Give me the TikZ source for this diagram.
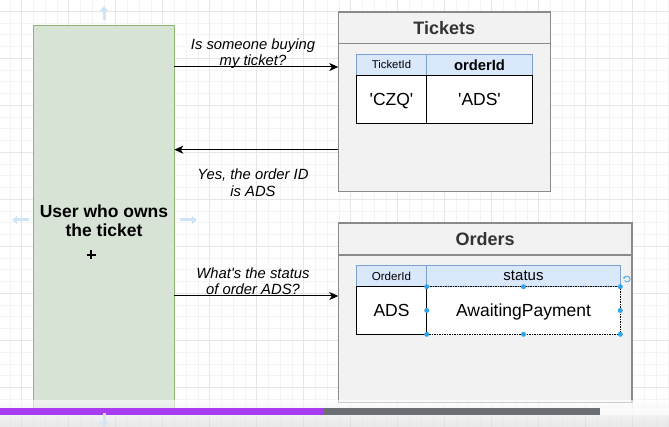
\documentclass[tikz,border=0pt]{standalone}
\usepackage{fontspec}
\setmainfont{Liberation Sans}
\usetikzlibrary{arrows.meta}
\definecolor{userfill}{HTML}{D6E3D5}
\definecolor{userdraw}{HTML}{8DB772}
\definecolor{tblfill}{HTML}{F2F2F2}
\definecolor{tbldraw}{HTML}{8A8A8A}
\definecolor{hdrfill}{HTML}{DAE8FC}
\definecolor{hdrdraw}{HTML}{7EA0D0}
\definecolor{gridminor}{HTML}{F4F4F4}
\definecolor{gridmajor}{HTML}{E6E6E6}
\definecolor{handle}{HTML}{2FA4E7}
\definecolor{hover}{HTML}{CFE5F7}
\definecolor{barpurple}{HTML}{A93BF2}
\definecolor{bargray}{HTML}{6B6F73}
\definecolor{titlecol}{HTML}{333333}
\begin{document}
\begin{tikzpicture}[x=1pt,y=-1pt,
  every node/.style={inner sep=0pt,outer sep=0pt},
  userbox/.style={draw=userdraw,fill=userfill,line width=1pt},
  tblbox/.style={draw=tbldraw,fill=tblfill,line width=1.6pt},
  hdrcell/.style={draw=hdrdraw,fill=hdrfill,line width=1pt},
  datacell/.style={draw=black,fill=white,line width=1pt,font=\fontsize{17.5}{19}\selectfont,text height=12.5pt,text depth=0pt},
  ttl/.style={font=\fontsize{18}{20}\selectfont\bfseries,text=titlecol},
  conn/.style={draw=black,line width=1pt,-{Stealth[length=9pt,width=8pt,inset=2.5pt]}},
  lbl/.style={font=\fontsize{14.8}{16.3}\selectfont\itshape,align=center},
  hov/.style={draw=hover,line width=3pt,-{Triangle[length=5pt,width=8pt]}},
  hdl/.style={fill=handle,draw=none,circle,minimum size=5pt}
]
\useasboundingbox (0,0) rectangle (669,427);
\fill[white] (0,0) rectangle (669,427);
% grid
\foreach \i in {0,...,57} {
  \draw[gridminor,line width=0.6pt] ({-1.95+11.75*\i},0) -- ({-1.95+11.75*\i},427);
}
\foreach \j in {0,...,37} {
  \draw[gridminor,line width=0.6pt] (0,{-0.45+11.75*\j}) -- (669,{-0.45+11.75*\j});
}
\foreach \i in {0,...,14} {
  \draw[gridmajor,line width=0.7pt] ({21.3+47*\i},0) -- ({21.3+47*\i},427);
}
\foreach \j in {0,...,9} {
  \draw[gridmajor,line width=0.7pt] (0,{11.3+47*\j}) -- (669,{11.3+47*\j});
}

% user box
\node[userbox,minimum width=140.6pt,minimum height=382.3pt] (user) at (104,216.9) {};
\node[font=\fontsize{17.5}{19}\selectfont\bfseries,align=center] (usertext) at (104,221) {User who owns\\the ticket};

% Tickets
\node[tblbox,minimum width=212pt,minimum height=179.4pt] (tickets) at (444.3,102) {};
\draw[tbldraw,line width=1.4pt] (tickets.west |- 0,43.7) -- (tickets.east |- 0,43.7);
\node[ttl] (tickettitle) at (444.3,28) {Tickets};
\node[hdrcell,minimum width=70.4pt,minimum height=21pt,font=\fontsize{11.3}{13}\selectfont] (th1) at (391.5,64.8) {TicketId};
\node[hdrcell,minimum width=105.6pt,minimum height=21pt,font=\fontsize{14.8}{16}\selectfont\bfseries] (th2) at (479.5,64.8) {orderId};
\node[datacell,minimum width=70.4pt,minimum height=48pt] (td1) at (391.5,99.3) {\textquotesingle CZQ\textquotesingle};
\node[datacell,minimum width=105.6pt,minimum height=48pt] (td2) at (479.5,99.3) {\textquotesingle ADS\textquotesingle};

% Orders
\node[tblbox,minimum width=293.7pt,minimum height=179pt] (orders) at (485.15,312.8) {};
\draw[tbldraw,line width=1.4pt] (orders.west |- 0,255) -- (orders.east |- 0,255);
\node[ttl] (ordertitle) at (485.15,239) {Orders};
\node[hdrcell,minimum width=70.4pt,minimum height=21pt,font=\fontsize{11.6}{13}\selectfont] (oh1) at (391.5,276.2) {OrderId};
\node[hdrcell,minimum width=193.6pt,minimum height=21pt,font=\fontsize{15}{17}\selectfont] (oh2) at (523.5,276.2) {status};
\node[datacell,minimum width=70.4pt,minimum height=47.6pt] (od1) at (391.5,310.5) {ADS};
\node[datacell,draw=none,minimum width=193.6pt,minimum height=47.6pt,text depth=0pt] (od2) at (523.5,310.5) {AwaitingPayment};
\draw[black,line width=0.8pt,dash pattern=on 1.5pt off 1pt] (od2.north west) rectangle (od2.south east);
\foreach \a in {north west,north,north east,east,south east,south,south west,west} {
  \node[hdl] at (od2.\a) {};
}
\draw[handle,line width=0.8pt,-{Stealth[length=2pt,width=2.5pt]}] (624.5,280.5) arc (-150:180:3pt);

% connectors
\draw[conn] (user.east |- 0,67) -- (tickets.west |- 0,67);
\draw[conn] (tickets.west |- 0,149.7) -- (user.east |- 0,149.7);
\draw[conn] (user.east |- 0,296) -- (orders.west |- 0,296);
\node[lbl] (l1) at (253,53.5) {Is someone buying\\my ticket?};
\node[lbl] (l2) at (253,182.8) {Yes, the order ID\\is ADS};
\node[lbl] (l3) at (253,280.9) {What\textquotesingle s the status\\of order ADS?};

% hover arrows
\draw[hov] (104,20) -- (104,6);
\draw[hov] (29,220) -- (12,220);
\draw[hov] (180,220) -- (197,220);

% cursor
\draw[black,line width=1.3pt] (86.5,255) -- (95.5,255) (91,250.5) -- (91,259.5);

% video bar
\shade[top color=white,bottom color=gray!30,opacity=0.6] (0,400) rectangle (669,427);
\fill[barpurple] (0,408) rectangle (324,415);
\fill[bargray] (324,408) rectangle (600,415);
\fill[white,opacity=0.6] (600,408) rectangle (669,415);
\draw[hov] (104,413) -- (104,427);
\end{tikzpicture}
\end{document}
